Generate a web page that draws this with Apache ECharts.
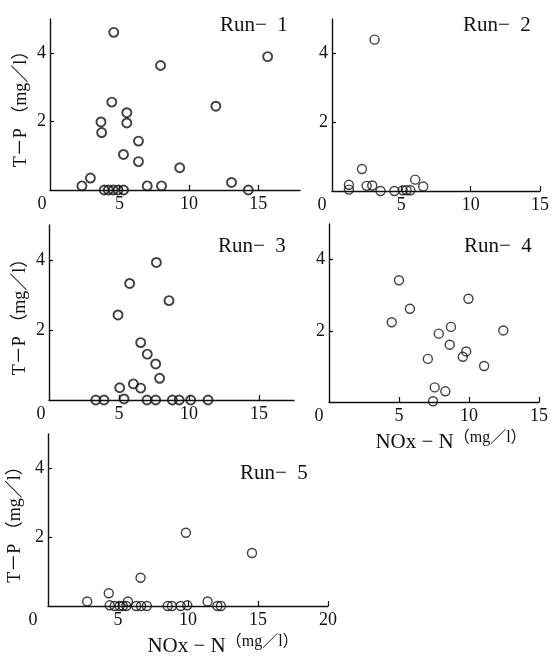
<!DOCTYPE html>
<html>
<head>
<meta charset="utf-8">
<script src="https://cdn.jsdelivr.net/npm/echarts@6.0.0/dist/echarts.min.js"></script>
<style>
  html, body { margin: 0; padding: 0; background: #fff; }
  #chart { width: 555px; height: 656px; }
</style>
</head>
<body>
<div id="chart"></div>
<script>
// T-P (mg/l) against NOx-N (mg/l)
const run1 = [
  [4.59, 4.61], [15.67, 3.90], [7.96, 3.64], [11.94, 2.45], [4.45, 2.57],
  [5.53, 2.26], [5.53, 1.96], [3.67, 1.99], [3.72, 1.68], [6.37, 1.43],
  [5.29, 1.04], [6.37, 0.83], [9.34, 0.65], [2.91, 0.35], [2.30, 0.12],
  [13.07, 0.22], [7.00, 0.12], [8.03, 0.12], [14.28, 0.0],
  [3.90, 0], [4.20, 0], [4.55, 0], [4.90, 0], [5.30, 0]
];
const run2 = [
  [3.07, 4.40], [2.16, 0.64], [1.22, 0.18], [1.22, 0.04], [2.50, 0.15],
  [2.90, 0.16], [3.50, 0], [4.50, 0], [5.10, 0.02], [5.38, 0.02],
  [5.65, 0.02], [6.00, 0.33], [6.58, 0.13]
];
const run3 = [
  [7.67, 3.93], [5.76, 3.33], [8.57, 2.84], [4.93, 2.43], [6.55, 1.64],
  [7.02, 1.31], [7.62, 1.03], [7.90, 0.62], [5.05, 0.35], [6.03, 0.46],
  [6.55, 0.34], [3.34, 0], [3.93, 0], [5.36, 0.03], [7.00, 0],
  [7.62, 0], [8.81, 0], [9.30, 0], [10.12, 0], [11.36, 0]
];
const run4 = [
  [5.00, 3.42], [9.96, 2.90], [5.78, 2.62], [4.48, 2.24], [8.71, 2.11],
  [7.84, 1.92], [12.45, 2.01], [8.62, 1.61], [9.80, 1.42], [9.56, 1.27],
  [7.06, 1.21], [11.08, 1.01], [7.55, 0.41], [8.31, 0.30], [7.43, 0.02]
];
const run5 = [
  [9.85, 2.13], [14.57, 1.54], [6.61, 0.82], [4.34, 0.37], [2.80, 0.13],
  [11.40, 0.13], [5.71, 0.13], [4.41, 0.02], [4.76, 0], [5.12, 0],
  [5.35, 0], [5.59, 0], [6.30, 0], [6.65, 0], [7.06, 0], [8.55, 0],
  [8.85, 0], [9.48, 0], [9.95, 0.02], [12.10, 0], [12.35, 0]
];

const runNames = ['Run−\u00a0\u00a01', 'Run−\u00a0\u00a02', 'Run−\u00a0\u00a03', 'Run−\u00a0\u00a04', 'Run−\u00a0\u00a05'];
const xTicks = [0, 5, 10, 15];
const xTicks5 = [0, 5, 10, 15, 20];
const yTicks = [2, 4];
const yName = 'T－P （mg／l）';
const xName = '{a|NOx − N}{b|（mg／l）}';

const font = "'Liberation Serif', 'Noto Sans CJK JP', serif";

// panel layout
const panels = [
  { data: run1, xMax: 18,   ticks: xTicks,  grid: { left: 50,  top: 19,  width: 250, height: 171 }, title: [215, 10],  yLabel: true,  zeroPad: 16, bold: true },
  { data: run2, xMax: 15,   ticks: xTicks,  grid: { left: 332, top: 19,  width: 208, height: 172 }, title: [458, 10],  yLabel: false, zeroPad: 20, bold: false },
  { data: run3, xMax: 17.5, ticks: xTicks,  grid: { left: 49,  top: 225, width: 245, height: 175 }, title: [213, 231], yLabel: true,  zeroPad: 16, bold: true },
  { data: run4, xMax: 15,   ticks: xTicks,  grid: { left: 329, top: 224, width: 210, height: 178 }, title: [459, 231], yLabel: false, zeroPad: 20, bold: false, xLabel: 34 },
  { data: run5, xMax: 20,   ticks: xTicks5, grid: { left: 48,  top: 434, width: 280, height: 172 }, title: [235, 458], yLabel: true,  zeroPad: 30, bold: false, xLabel: 70 }
];

const axisLine = { lineStyle: { color: '#111', width: 1.4 } };

const option = {
  backgroundColor: '#fff',
  animation: false,
  title: panels.map((p, i) => ({
    text: runNames[i],
    left: p.title[0],
    top: p.title[1],
    textStyle: { fontFamily: font, fontSize: 21, fontWeight: 'normal', color: '#111' }
  })),
  grid: panels.map(p => Object.assign({ outerBoundsMode: 'none', containLabel: false }, p.grid)),
  xAxis: panels.map((p, i) => ({
    type: 'value',
    gridIndex: i,
    min: 0,
    max: p.xMax,
    splitLine: { show: false },
    axisLine: axisLine,
    axisTick: { inside: true, length: 5, customValues: p.ticks.slice(1), lineStyle: { color: '#111', width: 1.2 } },
    axisLabel: {
      customValues: p.ticks,
      margin: 5,
      color: '#111',
      fontFamily: font,
      fontSize: 18,
      formatter: v => v === 0 ? '{z|0}' : String(v),
      rich: { z: { fontFamily: font, fontSize: 18, color: '#111', padding: [0, p.zeroPad, 0, 0] } }
    },
    name: p.xLabel ? xName : '',
    nameLocation: 'middle',
    nameGap: 28,
    nameTextStyle: {
      padding: [0, 0, 0, p.xLabel || 0],
      rich: {
        a: { fontFamily: font, fontSize: 21, color: '#111' },
        b: { fontFamily: font, fontSize: 16, color: '#111', padding: [0, 0, 8, 0] }
      }
    }
  })),
  yAxis: panels.map((p, i) => ({
    type: 'value',
    gridIndex: i,
    min: 0,
    max: 5,
    splitLine: { show: false },
    axisLine: axisLine,
    axisTick: { inside: true, length: 4, customValues: yTicks, lineStyle: { color: '#111', width: 1.2 } },
    axisLabel: { customValues: yTicks, margin: 4, color: '#111', fontFamily: font, fontSize: 18 },
    name: p.yLabel ? yName : '',
    nameLocation: 'middle',
    nameRotate: 90,
    nameGap: 20,
    nameTextStyle: { fontFamily: font, fontSize: 18, color: '#111' }
  })),
  series: panels.map((p, i) => ({
    type: 'scatter',
    xAxisIndex: i,
    yAxisIndex: i,
    data: p.data,
    symbol: 'circle',
    symbolSize: 9,
    itemStyle: { color: 'rgba(0,0,0,0)', borderColor: '#111', borderWidth: p.bold ? 1.9 : 1.4 }
  }))
};

const chart = echarts.init(document.getElementById('chart'), null, { renderer: 'canvas' });
chart.setOption(option);
</script>
</body>
</html>
